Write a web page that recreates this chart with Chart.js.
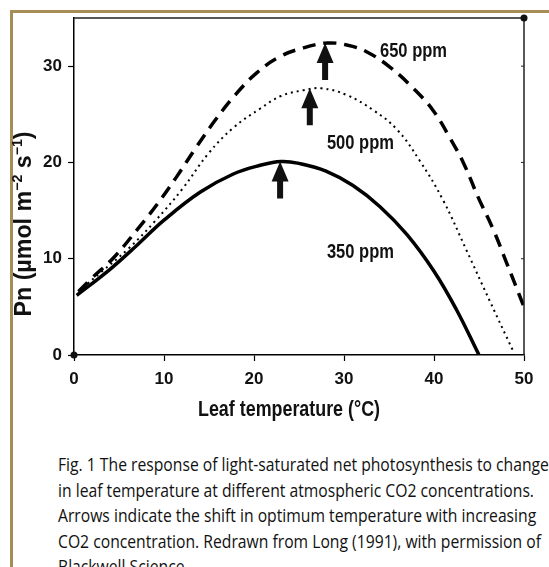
<!DOCTYPE html>
<html>
<head>
<meta charset="utf-8">
<script src="https://cdn.jsdelivr.net/npm/chart.js@4.4.1/dist/chart.umd.min.js"></script>
<style>
  html, body { margin: 0; padding: 0; background: #fff; }
  #wrap { position: relative; width: 549px; height: 567px; overflow: hidden; background: #fff; }
  #chartBox { position: absolute; left: 0; top: 0; width: 549px; height: 440px; }
  .rule-top { position: absolute; left: 10px; top: 10px; width: 539px; height: 3px; background: #a68c55; }
  .rule-left { position: absolute; left: 10px; top: 10px; width: 3px; height: 557px; background: #a68c55; }
  #caption { position: absolute; left: 58px; top: 452px; font-family: "Open Sans", sans-serif; font-size: 18px;
             line-height: 25.5px; color: #111; white-space: nowrap; transform-origin: 0 0; }
</style>
</head>
<body>
<div id="wrap">
  <div class="rule-top"></div>
  <div class="rule-left"></div>
  <div id="chartBox"><canvas id="pnChart"></canvas></div>
  <div id="caption">
    <div>Fig. 1 The response of light-saturated net photosynthesis to changes</div>
    <div id="capRef">in leaf temperature at different atmospheric CO2 concentrations.</div>
    <div>Arrows indicate the shift in optimum temperature with increasing</div>
    <div>CO2 concentration. Redrawn from Long (1991), with permission of</div>
    <div>Blackwell Science.</div>
  </div>
</div>
<script>
// values (leaf temperature in °C, Pn in µmol m-2 s-1)
const temp350 = [0.3, 4, 7, 10, 14, 17.7, 20.7, 23, 25, 28, 31, 34, 37, 40, 42.5, 45];
const pn350   = [6.2, 8.9, 11.4, 14.0, 16.9, 18.8, 19.7, 20.1, 19.9, 19.1, 17.6, 15.4, 12.5, 8.7, 4.7, 0];

const temp500 = [0.5, 3, 6, 9, 12, 15, 17.7, 20.7, 23, 25.5, 27.5, 30.3, 33.3, 35.9, 38.4, 41, 43.6, 46.2, 48.8];
const pn500   = [6.6, 8.6, 11.0, 13.9, 17.2, 21.0, 23.6, 25.6, 26.9, 27.5, 27.7, 27.0, 25.4, 23.4, 20.2, 16.1, 10.9, 5.6, 0.4];

const temp650 = [0.5, 2, 4.4, 7, 9.2, 11.4, 13.6, 15.7, 17.9, 20.3, 22.9, 25.5, 28.1, 30.3, 32.5, 35.1, 37.7, 39.9, 41.8, 43.3, 44.9, 46.6, 48.1, 50];
const pn650   = [6.6, 8.0, 10.1, 13.0, 15.6, 18.5, 21.6, 24.4, 27.0, 29.3, 31.0, 31.9, 32.4, 32.2, 31.5, 29.9, 27.7, 25.4, 22.5, 19.9, 16.4, 13.0, 9.5, 5.0];

// optimum temperature arrows (tip sits on the curve peak)
const arrowTemps = [22.9, 26.2, 27.9];
const arrowTips  = [20.1, 27.7, 32.4];

// series labels: text, left edge temperature, vertical centre value
const seriesLabels = ['650 ppm', '500 ppm', '350 ppm'];
const labelTemps   = [34.0, 28.1, 28.1];
const labelPn      = [31.5, 22.0, 10.6];

const xTicks = [0, 10, 20, 30, 40, 50];
const yTicks = [0, 10, 20, 30];

const xTitle = 'Leaf temperature (°C)';

const toPoints = (xs, ys) => xs.map((t, i) => ({ x: t, y: ys[i] }));
const narrowFamily = '"Liberation Sans Narrow", "Liberation Sans", Arial, sans-serif';

// draw text squeezed to a given width (figure uses a condensed bold face)
function fitText(ctx, text, x, y, width, size) {
  ctx.font = 'bold ' + size + 'px "Liberation Sans", Arial, sans-serif';
  const w = ctx.measureText(text).width;
  ctx.save();
  ctx.translate(x, y);
  ctx.scale(width / w, 1);
  ctx.fillText(text, 0, 0);
  ctx.restore();
}

function drawArrow(ctx, px, py) {
  const headW = 8.5, headH = 20, shaftW = 3, len = 37;
  ctx.beginPath();
  ctx.moveTo(px, py);
  ctx.lineTo(px + headW, py + headH);
  ctx.lineTo(px + shaftW, py + headH);
  ctx.lineTo(px + shaftW, py + len);
  ctx.lineTo(px - shaftW, py + len);
  ctx.lineTo(px - shaftW, py + headH);
  ctx.lineTo(px - headW, py + headH);
  ctx.closePath();
  ctx.fill();
}

const decorations = {
  id: 'decorations',
  afterDraw(chart) {
    const { ctx, chartArea: a, scales: { x, y } } = chart;
    ctx.save();
    ctx.fillStyle = '#111';
    ctx.strokeStyle = '#222';

    // top and right frame
    ctx.lineWidth = 1.5;
    ctx.beginPath();
    ctx.moveTo(a.left, a.top);
    ctx.lineTo(a.right, a.top);
    ctx.lineTo(a.right, a.bottom);
    ctx.stroke();
    ctx.lineWidth = 1;
    yTicks.slice(1).forEach(v => {
      const py = y.getPixelForValue(v);
      ctx.beginPath();
      ctx.moveTo(a.right - 3, py);
      ctx.lineTo(a.right, py);
      ctx.stroke();
    });

    // corner markers
    [[a.right, a.top], [a.left, a.bottom]].forEach(([cx, cy]) => {
      ctx.beginPath();
      ctx.arc(cx, cy, 3.5, 0, Math.PI * 2);
      ctx.fill();
    });

    // arrows
    arrowTemps.forEach((t, i) => drawArrow(ctx, x.getPixelForValue(t), y.getPixelForValue(arrowTips[i])));

    // curve labels
    ctx.textAlign = 'left';
    ctx.textBaseline = 'middle';
    seriesLabels.forEach((txt, i) => {
      fitText(ctx, txt, x.getPixelForValue(labelTemps[i]), y.getPixelForValue(labelPn[i]), 67, 20);
    });

    // x axis title
    fitText(ctx, xTitle, 198, 410, 182, 22);

    // y axis title with superscripts
    ctx.translate(31, 224);
    ctx.rotate(-Math.PI / 2);
    ctx.textBaseline = 'alphabetic';
    const parts = [['Pn (µmol m', false], ['\u22122', true], [' s', false], ['\u22121', true], [')', false]];
    const big = 'bold 23px "Liberation Sans", Arial, sans-serif';
    const small = 'bold 14px "Liberation Sans", Arial, sans-serif';
    let total = 0;
    parts.forEach(([t, sup]) => { ctx.font = sup ? small : big; total += ctx.measureText(t).width; });
    ctx.scale(185 / total, 1);
    let cx = -total / 2;
    parts.forEach(([t, sup]) => {
      ctx.font = sup ? small : big;
      ctx.fillText(t, cx, sup ? -9 : 0);
      cx += ctx.measureText(t).width;
    });
    ctx.restore();
  }
};

const tickFont = { family: narrowFamily, size: 17, weight: 'bold' };

new Chart(document.getElementById('pnChart'), {
  type: 'line',
  data: {
    datasets: [
      {
        label: '650 ppm',
        data: toPoints(temp650, pn650),
        borderColor: '#000',
        borderWidth: 3.5,
        borderDash: [13, 8],
        pointRadius: 0,
        tension: 0.4,
        fill: false
      },
      {
        label: '500 ppm',
        data: toPoints(temp500, pn500),
        borderColor: '#000',
        borderWidth: 2,
        borderDash: [2, 4],
        pointRadius: 0,
        tension: 0.4,
        fill: false
      },
      {
        label: '350 ppm',
        data: toPoints(temp350, pn350),
        borderColor: '#000',
        borderWidth: 3.5,
        pointRadius: 0,
        tension: 0.4,
        fill: false
      }
    ]
  },
  options: {
    responsive: true,
    maintainAspectRatio: false,
    animation: false,
    layout: { padding: { top: 18, right: 25, left: 0, bottom: 0 } },
    plugins: { legend: { display: false }, tooltip: { enabled: false } },
    scales: {
      x: {
        type: 'linear',
        min: 0,
        max: 50,
        afterBuildTicks: s => { s.ticks = xTicks.map(v => ({ value: v })); },
        afterFit: s => { s.height = 85; },
        grid: { drawOnChartArea: false, tickLength: 6, tickColor: '#000', tickWidth: 1.2 },
        border: { color: '#000', width: 1.5 },
        ticks: { font: tickFont, color: '#111', padding: 8, maxRotation: 0 }
      },
      y: {
        min: 0,
        max: 35,
        afterBuildTicks: s => { s.ticks = yTicks.map(v => ({ value: v })); },
        afterFit: s => { s.width = 74; },
        grid: { drawOnChartArea: false, tickLength: 6, tickColor: '#000', tickWidth: 1.2 },
        border: { color: '#000', width: 1.5 },
        ticks: { font: tickFont, color: '#111', padding: 6 }
      }
    }
  },
  plugins: [decorations]
});

// squeeze the caption to the figure's condensed type width
const capRef = document.getElementById('capRef');
const span = document.createElement('span');
span.textContent = capRef.textContent;
capRef.textContent = '';
capRef.appendChild(span);
const k = 476 / span.getBoundingClientRect().width;
document.getElementById('caption').style.transform = 'scaleX(' + k + ')';
</script>
</body>
</html>
